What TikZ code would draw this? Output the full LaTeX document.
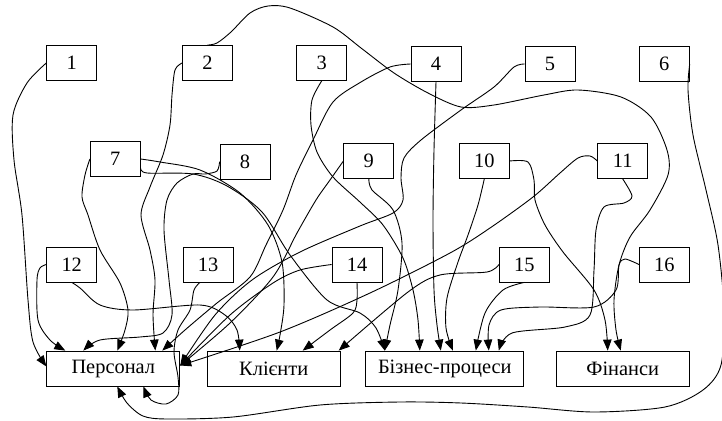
\documentclass[tikz,border=0pt]{standalone}
\usepackage{fontspec}
\setmainfont{Liberation Serif}
\usetikzlibrary{arrows.meta}

\begin{document}
\begin{tikzpicture}[x=1pt,y=-1pt,
  box/.style={draw,line width=0.8pt,minimum width=50pt,minimum height=35pt,inner sep=0pt,font=\fontsize{20.4}{23}\selectfont},
  goal/.style={box,minimum width=133pt},
  edge/.style={line width=0.9pt,-{Triangle[length=11pt,width=8.5pt]}}]
\useasboundingbox (0,0) rectangle (722,420);
% top row
\node[box] (n1) at (71.7,63) {1};
\node[box] (n2) at (207.5,63) {2};
\node[box] (n3) at (321.7,63) {3};
\node[box] (n4) at (436,64) {4};
\node[box] (n5) at (550,64) {5};
\node[box] (n6) at (664.3,64) {6};
% middle rows
\node[box] (n7) at (115.3,159) {7};
\node[box] (n8) at (245,161.7) {8};
\node[box] (n9) at (368.8,161) {9};
\node[box] (n10) at (484.3,161) {10};
\node[box] (n11) at (622.7,161) {11};
\node[box] (n12) at (71.7,264.5) {12};
\node[box] (n13) at (208,264.5) {13};
\node[box] (n14) at (357,264.5) {14};
\node[box] (n15) at (524.3,264.5) {15};
\node[box] (n16) at (664.3,264.5) {16};
% targets
\node[goal] (P) at (113.3,368.5) {Персонал};
\node[goal] (K) at (273.7,368.5) {Клієнти};
\node[goal,minimum width=158pt] (B) at (444.8,368.5) {Бізнес-процеси};
\node[goal] (F) at (622.7,368.5) {Фінанси};
% edges
\draw[edge] plot[smooth] coordinates {(n1.west) (27,83) (13,115) (14,160) (22,215) (28,300) (33,342) ([yshift=2pt]P.west)};
\draw[edge] plot[smooth] coordinates {(n2.west) (175,70) (172,95) (170,125) (163,155) (150,187) (141,215) (150,250) (155,280) (153,315) ([xshift=42pt]P.north)};
\draw[edge] plot[smooth] coordinates {(n2.north) (217,43) (231,32) (250,13) (268,6) (290,8) (333,27) (361,48) (394,73) (428,93) (461,107) (494,105) (544,95) (578,90) (621,97) (651,117) (667,150) (668,175) (650,210) (630,237) (619,265) (614,300) (616,330) ([xshift=-2pt]F.north)};
\draw[edge] plot[smooth] coordinates {(n3.south) (312,100) (311,125) (317,152) (333,177) (361,203) (383,225) (403,258) (413,290) (418,320) ([xshift=-25pt]B.north)};
\draw[edge] plot[smooth] coordinates {(n4.west) (390,67) (361,82) (333,102) (313,140) (296,175) (283,210) (266,245) (250,277) (217,303) (185,330) ([xshift=49pt]P.north)};
\draw[edge] plot[smooth] coordinates {(n4.south) (434,150) (433,220) (434,290) (437,325) ([xshift=-4pt]B.north)};
\draw[edge] plot[smooth] coordinates {(n5.west) (514,67) (494,87) (461,110) (421,140) (404,158) (401,178) (403,200) (393,213) (360,226) (300,252) (252,280) (215,315) ([yshift=3pt]P.east)};
\draw[edge] plot[smooth] coordinates {(n6.east) (688,90) (693,135) (706,190) (718,245) (724,310) (721,365) (703,390) (665,407) (594,412) (528,407) (461,403) (400,402) (320,405) (233,417) (167,419) (143,416) (127,403) ([xshift=4pt]P.south)};
\draw[edge] plot[smooth] coordinates {(n7.west) (85,175) (82,197) (88,215) (100,250) (120,283) (128,310) (125,330) ([xshift=4pt]P.north)};
\draw[edge] plot[smooth] coordinates {(n7.east) (160,162) (200,170) (240,193) (268,225) (282,262) (284,305) (280,335) ([xshift=3pt]K.north)};
\draw[edge] plot[smooth] coordinates {([yshift=-9pt]n7.east) (147,173) (193,174) (227,186) (262,212) (290,255) (327,300) (360,313) (376,328) ([xshift=-60pt]B.north)};
\draw[edge] plot[smooth] coordinates {(n8.west) (217,171) (205,174) (193,174) (177,183) (167,200) (164,230) (169,280) (172,315) (163,333) (140,337) (100,340) ([xshift=-30pt]P.north)};
\draw[edge] plot[smooth] coordinates {(n9.west) (330,180) (316,200) (297,233) (273,277) (230,323) ([yshift=3pt]P.east)};
\draw[edge] plot[smooth] coordinates {(n9.south) (372,190) (393,210) (402,243) (398,290) (390,325) ([xshift=-60pt]B.north)};
\draw[edge] plot[smooth] coordinates {(n10.south) (478,205) (468,235) (458,262) (447,298) (446,328) ([xshift=8pt]B.north)};
\draw[edge] plot[smooth] coordinates {(n10.east) (528,162) (534,180) (535,200) (545,225) (563,252) (594,290) (605,320) ([xshift=-15pt]F.north)};
\draw[edge] plot[smooth] coordinates {(n11.west) (590,156) (578,158) (560,173) (533,197) (490,228) (450,253) (370,293) (280,332) ([yshift=3pt]P.east)};
\draw[edge] plot[smooth] coordinates {(n11.south) (632,196) (624,203) (604,207) (596,230) (594,270) (590,315) (565,327) (512,333) ([xshift=54pt]B.north)};
\draw[edge] plot[smooth] coordinates {(n12.west) (40,268) (37,280) (38,320) (50,340) ([xshift=-48pt]P.north)};
\draw[edge] plot[smooth] coordinates {(n12.south) (80,288) (100,305) (133,310) (200,305) (225,315) (237,330) ([xshift=-34pt]K.north)};
\draw[edge] plot[smooth] coordinates {([xshift=-8pt]n13.south) (194,290) (190,310) (178,330) (174,352) (178,377) (178,395) (166,404) (151,400) ([xshift=30pt]P.south)};
\draw[edge] plot[smooth] coordinates {(n14.west) (300,270) (273,283) (230,315) ([yshift=3pt]P.east)};
\draw[edge] plot[smooth] coordinates {(n14.south) (357,300) (353,313) (330,330) ([xshift=29pt]K.north)};
\draw[edge] plot[smooth] coordinates {(n15.west) (487,272) (440,275) (408,292) ([xshift=65pt]K.north)};
\draw[edge] plot[smooth] coordinates {(n15.south) (503,290) (485,313) ([xshift=31pt]B.north)};
\draw[edge] plot[smooth] coordinates {(n16.west) (625,259) (619,265) (616,290) (594,307) (540,307) (501,310) (489,325) ([xshift=44pt]B.north)};
\end{tikzpicture}
\end{document}
